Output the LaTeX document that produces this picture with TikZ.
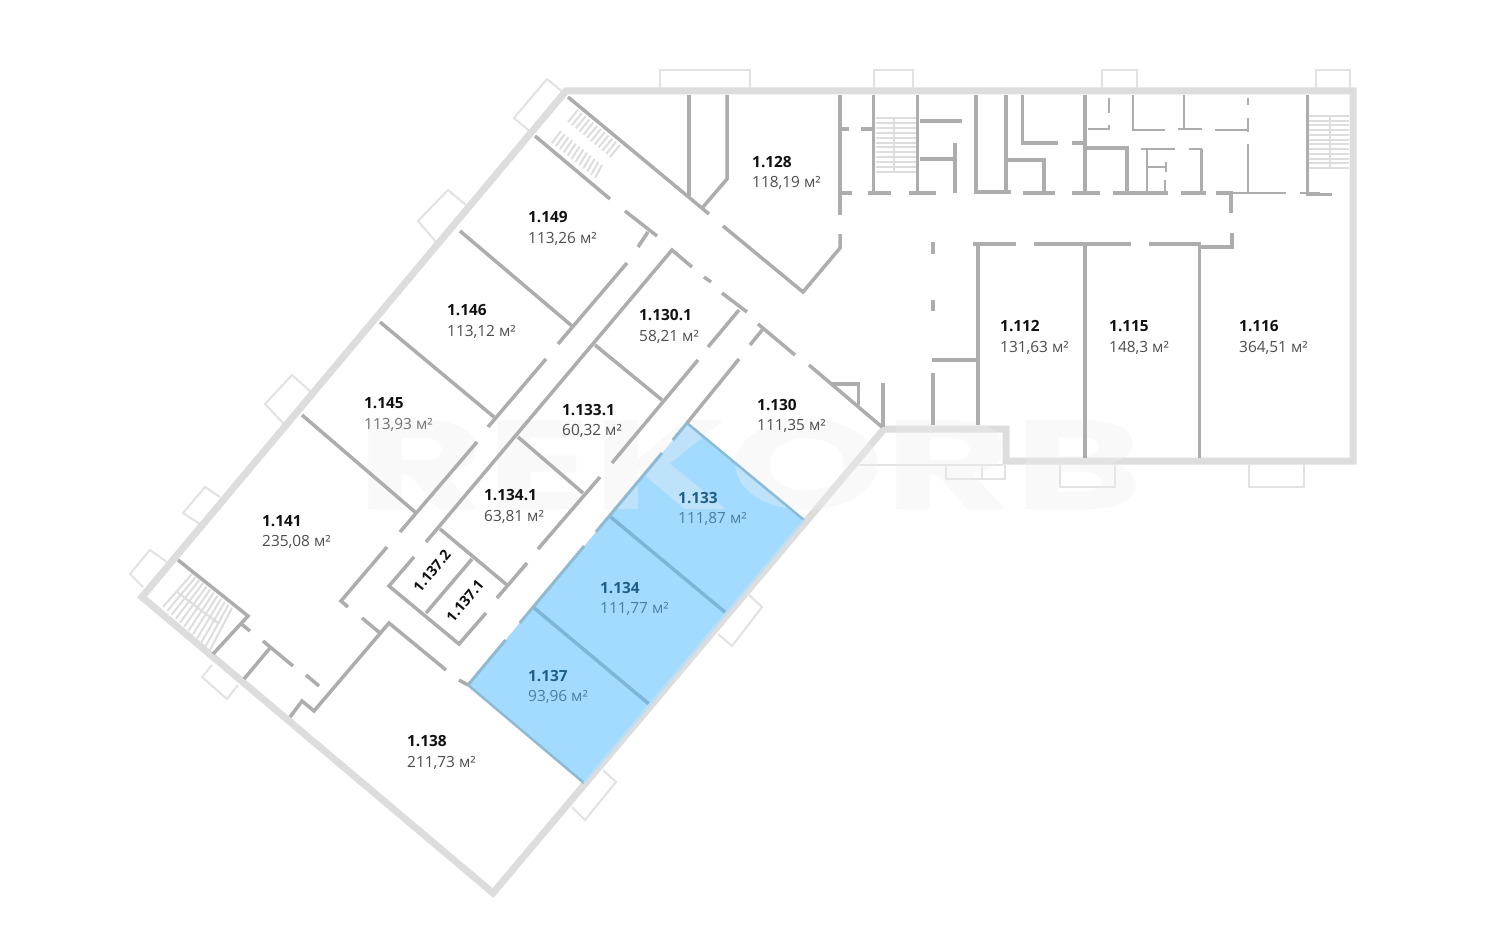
\documentclass[tikz,border=0pt]{standalone}
\usepackage{fontspec}
\usepackage{graphicx}
\setmainfont{Open Sans}
\newfontfamily\markfont{Poppins}
\usetikzlibrary{calc}
\definecolor{wallin}{HTML}{ADADAD}
\definecolor{wallout}{HTML}{DDDDDD}
\definecolor{winline}{HTML}{E2E2E2}
\definecolor{stairbar}{HTML}{DDDDDD}
\definecolor{blueroom}{HTML}{A2DBFF}
\definecolor{bluediv}{HTML}{7FB6D8}
\definecolor{blueedge}{HTML}{8DBBD6}
\definecolor{blueout}{HTML}{BFDDEE}
\definecolor{bluehead}{HTML}{1F5F87}
\definecolor{bluetext}{HTML}{4A7FA3}
\definecolor{texthead}{HTML}{111111}
\definecolor{textbody}{HTML}{4D4D4D}
\definecolor{markgrey}{HTML}{F0F0F0}
\tikzset{
 outwall/.style={draw=wallout,line width=7pt,line join=miter},
 inwall/.style={draw=wallin,line width=3.5pt,line join=miter},
 thinwall/.style={draw=wallin,line width=2pt},
 winbox/.style={draw=winline,line width=2pt},
 treads/.style={draw=stairbar,line width=2pt},
 roomlab/.style={anchor=west,align=left,inner sep=0pt,yshift=-1.8pt,text=textbody,font=\fontsize{15.4}{20.5}\selectfont},
 roomblue/.style={roomlab,text=bluetext},
 smallroom/.style={inner sep=0pt,text=texthead,rotate=50,font=\fontsize{14.4}{18}\selectfont\bfseries},
}
\newcommand{\roomtxt}[2]{{\bfseries\color{texthead}#1}\\#2}
\newcommand{\bluetxt}[2]{{\bfseries\color{bluehead}#1}\\#2}
\newcommand{\stairs}[5]{%
  \foreach \t in {0,...,#5}{%
    \pgfmathsetmacro{\f}{\t/#5}%
    \draw[treads] ($#1!\f!#2$) -- ($#3!\f!#4$);
  }}
\begin{document}
\begin{tikzpicture}[x=1pt,y=-1pt]
\useasboundingbox (0,0) rectangle (1500,950);
\fill[white] (0,0) rectangle (1500,950);
% windows
\draw[winbox] (660,88)--(660,70)--(750,70)--(750,88);
\draw[winbox] (874,88)--(874,70)--(913,70)--(913,88);
\draw[winbox] (1102,88)--(1102,70)--(1137,70)--(1137,88);
\draw[winbox] (1316,88)--(1316,70)--(1350,70)--(1350,88);
\draw[winbox] (532,133)--(514,118)--(547,79)--(565,94);
\draw[winbox] (466,205)--(448,190)--(418,221)--(437,243);
\draw[winbox] (311,392)--(292,375)--(265,404)--(285,425);
\draw[winbox] (220,497)--(205,487)--(183,513)--(200,524);
\draw[winbox] (167,562)--(150,550)--(130,574)--(143,587);
\draw[winbox] (212,665)--(202,677)--(227,699)--(238,685);
\draw[winbox] (603,770)--(616,782)--(585,820)--(572,807);
\draw[winbox] (749,595)--(762,607)--(732,646)--(718,634);
\draw[winbox] (859,465)--(1003,465);
\draw[winbox] (946,465)--(946,479)--(1005,479)--(1005,465);
\draw[winbox] (982,465)--(982,479);
\draw[winbox] (1060,465)--(1060,487)--(1115,487)--(1115,465);
\draw[winbox] (1249,465)--(1249,487)--(1304,487)--(1304,465);
% stairs
\stairs{(578,110)}{(620,145)}{(568,122)}{(610,157)}{11}
\stairs{(561,131)}{(602,165)}{(552,143)}{(595,178)}{11}
\stairs{(192,574)}{(232,608)}{(163,607)}{(210,650)}{11}
\draw[treads] (177,592)--(218,623);
\stairs{(876,118)}{(876,172)}{(916,118)}{(916,172)}{11}
\draw[treads] (894,118)--(894,172);
\stairs{(1309,116)}{(1309,168)}{(1349,116)}{(1349,168)}{11}
\draw[treads] (1330,116)--(1330,168);
% outer wall
\draw[outwall] (566,91)--(1353,91)--(1353,461)--(1006,461)--(1006,429)--(884,429)--(493,893)--(142,597)--cycle;
% blue units
\fill[blueroom] (468,685)--(533,607)--(649,704)--(584,783)--cycle;
\fill[blueroom] (533,607)--(609.5,516)--(726,613)--(649,704)--cycle;
\fill[blueroom] (609.5,516)--(687,423)--(804,520)--(726,613)--cycle;
% watermark
\node[inner sep=0pt,text=markgrey,text opacity=0.35] (mark) at (750,465)
  {\resizebox{785pt}{90pt}{\markfont\bfseries REKORB}};
\draw[bluediv,line width=3.5pt] (533,607)--(649,704);
\draw[bluediv,line width=3.5pt] (609.5,516)--(726,613);
\draw[blueedge,line width=2.5pt] (468,685)--(584,783);
\draw[blueedge,line width=2.5pt] (687,423)--(804,520);
\draw[blueout,line width=2.5pt] (584,783)--(804,520);
\draw[blueedge,line width=3pt] (468,685)--(505.6,640);
\draw[blueedge,line width=3pt] (519.8,623)--(584.2,546);
\draw[blueedge,line width=3pt] (595.9,532)--(662,453);
\draw[blueedge,line width=3pt] (672.8,440)--(687,423);
% top-left block
\draw[inwall] (568,97)--(709,214);
\draw[inwall] (689,95)--(689,196);
\draw[inwall] (727,95)--(727,179)--(703,207);
\draw[inwall] (840,95)--(840,215);
\draw[inwall] (840,129)--(849,129);
\draw[inwall] (840,193)--(852,193);
\draw[inwall] (840,234)--(840,248)--(803,292)--(723,226);
\draw[inwall] (535,136)--(610,199);
\draw[inwall] (625,211)--(657,236);
\draw[inwall] (648,232)--(638,247);
% corridor walls
\draw[inwall] (627,263)--(558,344);
\draw[inwall] (460,231)--(572,326);
\draw[inwall] (546,359)--(488,427);
\draw[inwall] (380,322)--(494,417);
\draw[inwall] (477,442)--(400,532);
\draw[inwall] (302,415)--(415,512);
\draw[inwall] (692,267)--(672,250)--(426,542);
\draw[inwall] (704,277)--(711,282);
\draw[inwall] (722,293)--(747,312);
\draw[inwall] (739,310)--(708,347);
\draw[inwall] (698,360)--(612,463);
\draw[inwall] (739,359)--(687,423);
\draw[inwall] (600,477)--(538,549);
\draw[inwall] (595,345)--(662,400);
\draw[inwall] (518,437)--(583,493);
\draw[inwall] (440,529)--(507,585);
\draw[inwall] (527,563)--(497,598);
\draw[inwall] (758,324)--(795,355);
\draw[inwall] (763,329)--(750,345);
\draw[inwall] (809,365)--(882,427);
\draw[inwall] (832,384)--(858.5,384)--(858.5,405);
\draw[inwall] (883,383)--(883,427);
% small rooms
\draw[inwall] (414,557)--(389,586)--(459,644)--(486,613);
\draw[inwall] (472,559)--(426,613);
% lower-left block
\draw[inwall] (178,560)--(248,616)--(213,654);
\draw[inwall] (240,623)--(250,631);
\draw[inwall] (263,641)--(293,666);
\draw[inwall] (270,648)--(244,679);
\draw[inwall] (306,675)--(319,686);
\draw[inwall] (290,717)--(302,701)--(314,711)--(389,623)--(446,670);
\draw[inwall] (362,618)--(380,633);
\draw[inwall] (387,547)--(341,601)--(348,607);
\draw[inwall] (459,680)--(468,685);
% centre and lower right
\draw[inwall] (933,242)--(933,254);
\draw[inwall] (933,300)--(933,311);
\draw[inwall] (933,373)--(933,425);
\draw[inwall] (932,360)--(977,360);
\draw[inwall] (978,244)--(978,425);
\draw[inwall] (1085,244)--(1085,458);
\draw[inwall] (1199.5,244)--(1199.5,458);
\draw[inwall] (973,244)--(1016,244);
\draw[inwall] (1034,244)--(1130.5,244);
\draw[inwall] (1149,244)--(1201,244);
\draw[inwall] (1201,247)--(1232,247)--(1232,233);
% service block
\draw[inwall] (873.6,95)--(873.6,193);
\draw[inwall] (861,129)--(873.6,129);
\draw[inwall] (917.5,95)--(917.5,193);
\draw[inwall] (868,193)--(891,193);
\draw[inwall] (909,193)--(936,193);
\draw[inwall] (920,121)--(962,121);
\draw[inwall] (920,159)--(955,159);
\draw[inwall] (955,143)--(955,193);
\draw[inwall] (976,95)--(976,192)--(1011,192);
\draw[inwall] (1006,95)--(1006,192);
\draw[inwall] (1022.5,95)--(1022.5,143)--(1057.5,143);
\draw[inwall] (1008,160)--(1044,160)--(1044,193);
\draw[inwall] (1022.5,193)--(1055,193);
\draw[inwall] (1085,95)--(1085,193);
\draw[inwall] (1072,143)--(1085,143);
\draw[inwall] (1072,193)--(1100,193);
\draw[inwall] (1085,148)--(1127,148)--(1127,193);
\draw[inwall] (1113,193)--(1168,193);
\draw[thinwall] (1108.5,98)--(1108.5,113);
\draw[thinwall] (1088,129)--(1109,129)--(1109,125);
\draw[thinwall] (1132.5,95)--(1132.5,130)--(1165,130);
\draw[thinwall] (1183.5,95)--(1183.5,130);
\draw[thinwall] (1178,129)--(1202,129);
\draw[thinwall] (1247.5,98)--(1247.5,105);
\draw[thinwall] (1247.5,118)--(1247.5,132);
\draw[thinwall] (1215,130)--(1247.5,130);
\draw[thinwall] (1141,149)--(1175,149);
\draw[thinwall] (1147,149)--(1147,193);
\draw[thinwall] (1147,167)--(1166.5,167);
\draw[thinwall] (1166,162)--(1166,172);
\draw[thinwall] (1165,180)--(1165,193);
\draw[thinwall] (1189,149)--(1201.5,149);
\draw[inwall] (1201.5,149)--(1201.5,193);
\draw[inwall] (1181,193)--(1206,193);
\draw[inwall] (1216,193)--(1233,193);
\draw[inwall] (1231,193)--(1231,213);
\draw[thinwall] (1233,193)--(1286,193);
\draw[thinwall] (1247.5,144)--(1247.5,193);
\draw[thinwall] (1300,193)--(1320,193);
\draw[inwall] (1307.5,95)--(1307.5,194);
\draw[inwall] (1306,194.5)--(1332,194.5);
% labels
\node[roomlab] (r128) at (752,171) {\roomtxt{1.128}{118,19 м²}};
\node[roomlab] (r149) at (528,226.5) {\roomtxt{1.149}{113,26 м²}};
\node[roomlab] (r146) at (447,319.5) {\roomtxt{1.146}{113,12 м²}};
\node[roomlab,text=black!55] (r145) at (364,412.5) {\roomtxt{1.145}{113,93 м²}};
\node[roomlab] (r141) at (262,530) {\roomtxt{1.141}{235,08 м²}};
\node[roomlab] (r1301) at (639,324.5) {\roomtxt{1.130.1}{58,21 м²}};
\node[roomlab] (r1331) at (562,419) {\roomtxt{1.133.1}{60,32 м²}};
\node[roomlab] (r1341) at (484,504.5) {\roomtxt{1.134.1}{63,81 м²}};
\node[roomlab] (r130) at (757,414) {\roomtxt{1.130}{111,35 м²}};
\node[roomlab] (r138) at (407,750.5) {\roomtxt{1.138}{211,73 м²}};
\node[roomlab] (r112) at (1000,335.5) {\roomtxt{1.112}{131,63 м²}};
\node[roomlab] (r115) at (1109,335.5) {\roomtxt{1.115}{148,3 м²}};
\node[roomlab] (r116) at (1239,335.5) {\roomtxt{1.116}{364,51 м²}};
\node[roomblue] (r133) at (678,507) {\bluetxt{1.133}{111,87 м²}};
\node[roomblue] (r134) at (600,597) {\bluetxt{1.134}{111,77 м²}};
\node[roomblue] (r137) at (528,685) {\bluetxt{1.137}{93,96 м²}};
\node[smallroom] (r1372) at (432,571) {1.137.2};
\node[smallroom] (r1371) at (465,601) {1.137.1};
\end{tikzpicture}
\end{document}
